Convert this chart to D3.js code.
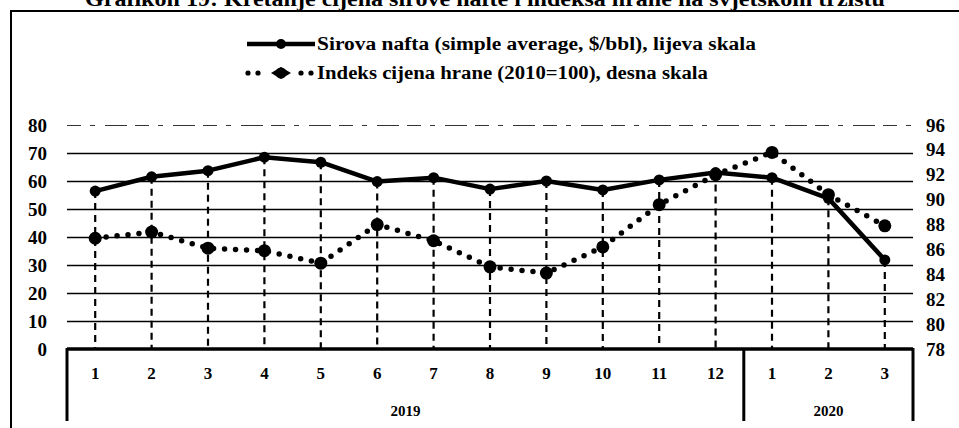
<!DOCTYPE html>
<html><head><meta charset="utf-8">
<script src="https://cdn.jsdelivr.net/npm/d3@7"></script>
<style>body{margin:0;background:#fff}svg{display:block}</style>
</head><body><svg id="c" width="959" height="428"></svg>
<script>
const months = ["1","2","3","4","5","6","7","8","9","10","11","12","1","2","3"];
const years = ["2019","2020"];
const yearMonthCounts = [12,3];
const oil = [56.4,61.5,63.7,68.5,66.7,59.8,61.2,57.1,60.0,56.8,60.4,63.0,61.2,53.8,31.8];
const food = [86.9,87.4,86.1,85.9,84.9,88.0,86.7,84.6,84.1,86.2,89.6,92.0,93.8,90.4,87.9];
const leftTicks = [0,10,20,30,40,50,60,70,80];
const rightTicks = [78,80,82,84,86,88,90,92,94,96];
const title = "Grafikon 19: Kretanje cijena sirove nafte i indeksa hrane na svjetskom tržištu";
const legendLabels = ["Sirova nafta (simple average, $/bbl), lijeva skala","Indeks cijena hrane (2010=100), desna skala"];

const svg = d3.select("#c");
const font = "'Liberation Serif','Times New Roman',serif";
const idx = d3.range(months.length);
const x = d3.scaleBand().domain(idx).range([67,913]);
const cx = i => x(i) + x.bandwidth()/2;
const yL = d3.scaleLinear().domain([0,80]).range([349,125]);
const yR = d3.scaleLinear().domain([78,96]).range([349,125]);

// frame
svg.append("path").attr("d","M11,428 L11,11 L959,11").attr("fill","none").attr("stroke","#000").attr("stroke-width",2);
// title (cropped at top, as in the reference)
svg.append("text").attr("x",85).attr("y",6).attr("font-family",font).attr("font-weight","bold")
  .attr("font-size",20).attr("textLength",800).attr("lengthAdjust","spacingAndGlyphs").text(title);

// left axis with grid
const gL = svg.append("g").attr("transform","translate(67,0)")
  .call(d3.axisLeft(yL).tickValues(leftTicks).tickSize(-846).tickPadding(20).tickFormat(d3.format("d")));
gL.select(".domain").remove();
gL.selectAll(".tick line").attr("stroke","#000").attr("stroke-width",1.6)
  .filter(d=>d===0).remove();
gL.selectAll(".tick line").filter(d=>d===80).attr("stroke","#333").attr("stroke-width",1.2).attr("stroke-dasharray","14,9,5,10,22,8");
gL.selectAll(".tick text").attr("font-family",font).attr("font-weight","bold").attr("font-size",19).attr("fill","#000");

// right axis
const gR = svg.append("g").attr("transform","translate(913,0)")
  .call(d3.axisRight(yR).tickValues(rightTicks).tickSize(0).tickPadding(13).tickFormat(d3.format("d")));
gR.select(".domain").remove();
gR.selectAll(".tick text").attr("font-family",font).attr("font-weight","bold").attr("font-size",19).attr("fill","#000");

// drop lines
svg.append("g").selectAll("line").data(idx).join("line")
  .attr("x1",cx).attr("x2",cx).attr("y1",i=>yL(oil[i])).attr("y2",yL(0))
  .attr("stroke","#000").attr("stroke-width",2.2).attr("stroke-dasharray","7,5");

// bottom axis
const gB = svg.append("g").attr("transform","translate(0,349)")
  .call(d3.axisBottom(x).tickSize(0).tickPadding(18).tickFormat(i=>months[i]));
gB.select(".domain").attr("stroke","#000").attr("stroke-width",3.5).attr("d","M67,0H913");
gB.selectAll(".tick text").attr("font-family",font).attr("font-weight","bold").attr("font-size",17).attr("fill","#000");

// year boxes
let start = 0;
const bounds = [67];
yearMonthCounts.forEach((n,k)=>{
  const x0 = x(start), x1 = x(start+n-1)+x.bandwidth();
  bounds.push(x1);
  svg.append("text").attr("x",(x0+x1)/2).attr("y",411).attr("text-anchor","middle").attr("dominant-baseline","central")
    .attr("font-family",font).attr("font-weight","bold").attr("font-size",15).text(years[k]);
  start += n;
});
svg.append("g").selectAll("line").data(bounds).join("line")
  .attr("x1",d=>d).attr("x2",d=>d).attr("y1",348).attr("y2",421).attr("stroke","#000").attr("stroke-width",3);

// food dotted line
svg.append("path").datum(idx).attr("fill","none").attr("stroke","#000").attr("stroke-width",5.5)
  .attr("stroke-linecap","round").attr("stroke-dasharray","0,11")
  .attr("d",d3.line().x(cx).y(i=>yR(food[i])));
svg.append("g").selectAll("circle").data(idx).join("circle")
  .attr("cx",cx).attr("cy",i=>yR(food[i])).attr("r",6.5).attr("fill","#000");

// oil solid line
svg.append("path").datum(idx).attr("fill","none").attr("stroke","#000").attr("stroke-width",4.5)
  .attr("stroke-linejoin","round").attr("d",d3.line().x(cx).y(i=>yL(oil[i])));
svg.append("g").selectAll("circle").data(idx).join("circle")
  .attr("cx",cx).attr("cy",i=>yL(oil[i])).attr("r",5.5).attr("fill","#000");

// legend
const lg = svg.append("g");
lg.append("line").attr("x1",247).attr("x2",315).attr("y1",44).attr("y2",44).attr("stroke","#000").attr("stroke-width",4.5);
lg.append("circle").attr("cx",281).attr("cy",44).attr("r",5).attr("fill","#000");
[248,258,301,311].forEach(px=>lg.append("circle").attr("cx",px).attr("cy",73).attr("r",2.6).attr("fill","#000"));
lg.append("path").attr("d","M271,73 L281,67 L291,73 L281,79Z").attr("fill","#000");
lg.append("circle").attr("cx",281).attr("cy",73).attr("r",5.5).attr("fill","#000");
lg.selectAll("text").data(legendLabels).join("text")
  .attr("x",317).attr("y",(d,i)=>44+i*29).attr("dominant-baseline","central")
  .attr("font-family",font).attr("font-size",18).attr("font-weight","bold")
  .attr("textLength",(d,i)=>i===0?439:391).attr("lengthAdjust","spacingAndGlyphs").text(d=>d);
</script></body></html>
